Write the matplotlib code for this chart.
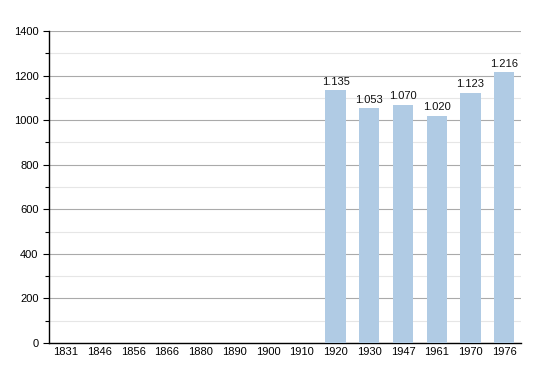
import matplotlib
matplotlib.use("Agg")
import matplotlib.pyplot as plt
from matplotlib.ticker import MultipleLocator

plt.rcParams['font.family'] = ['Liberation Sans', 'DejaVu Sans']

years = ["1831", "1846", "1856", "1866", "1880", "1890", "1900", "1910",
         "1920", "1930", "1947", "1961", "1970", "1976"]
population = [None, None, None, None, None, None, None, None,
              1135, 1053, 1070, 1020, 1123, 1216]
bar_labels = ["1.135", "1.053", "1.070", "1.020", "1.123", "1.216"]

fig = plt.figure(figsize=(5.5, 3.73), dpi=100)
ax = fig.add_axes([49 / 550, 30 / 373, 472 / 550, 312 / 373])

xs = list(range(len(years)))
vals = [v if v is not None else 0 for v in population]
bars = ax.bar(xs, vals, width=0.6, color="#b0cbe4", zorder=3)

# labels above the bars that have data
k = 0
for x, v in zip(xs, population):
    if v is None:
        continue
    ax.text(x, v + 15, bar_labels[k], ha="center", va="bottom", fontsize=8, color="#111111")
    k += 1

ax.set_xlim(-0.5, len(years) - 0.5)
ax.set_ylim(0, 1400)
ax.set_xticks(xs)
ax.set_xticklabels(years, fontsize=8)
ax.yaxis.set_major_locator(MultipleLocator(200))
ax.yaxis.set_minor_locator(MultipleLocator(100))
ax.tick_params(axis="y", labelsize=8, length=4, width=0.8)
ax.tick_params(axis="y", which="minor", length=3, width=0.8)
ax.tick_params(axis="x", length=0, pad=3)

ax.grid(axis="y", which="major", color="#aaaaaa", linewidth=0.8, zorder=0)
ax.grid(axis="y", which="minor", color="#e6e6e6", linewidth=0.8, zorder=0)

for side in ["top", "right"]:
    ax.spines[side].set_visible(False)
ax.spines["left"].set_linewidth(1.0)
ax.spines["bottom"].set_linewidth(1.0)

fig.savefig("out.png", dpi=100)
